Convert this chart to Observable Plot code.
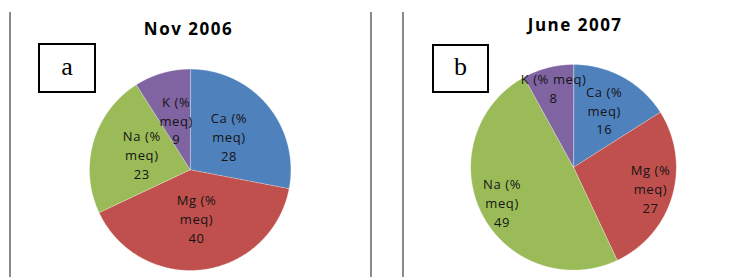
<!DOCTYPE html>
<html><head><meta charset="utf-8">
<script src="https://cdn.jsdelivr.net/npm/d3@7"></script>
<script src="https://cdn.jsdelivr.net/npm/@observablehq/plot@0.6"></script>
<style>
body{margin:0;background:#fff;}
#chart{position:relative;width:738px;height:277px;overflow:hidden;font-family:"Open Sans",sans-serif;}
#chart svg{position:absolute;left:0;top:0;}
#chart svg text{letter-spacing:0.6px;}
.vline{position:absolute;top:12px;bottom:0;width:2px;background:#8a8a8a;}
.title{position:absolute;font-weight:bold;font-size:17px;letter-spacing:1.5px;padding-left:1.5px;text-align:center;width:200px;line-height:17px;color:#000;}
.tag{position:absolute;box-sizing:border-box;border:2px solid #000;font-family:"Liberation Serif",serif;font-size:26px;line-height:26px;text-align:center;color:#000;background:#fff;}
</style></head><body><div id="chart"></div>
<script>
// ---- data ----
const ions = ["Ca", "Mg", "Na", "K"];
const ionUnit = "(% meq)";
const nov2006 = [28, 40, 23, 9];
const june2007 = [16, 27, 49, 8];
const titles = ["Nov 2006", "June 2007"];
const panelTags = ["a", "b"];
const sliceColors = ["#4F81BD", "#C0504D", "#9BBB59", "#8064A2"];

// ---- layout / style ----
const series = [nov2006, june2007];
const panels = [
  {cx: 189.7, cy: 169.3, r: 100.7, labelR: [0.5, 0.5, 0.5, 0.5], wrap: [true, true, true, true],
   titleX: 187, titleBase: 35, tag: {left: 38, top: 43, w: 58, h: 50, pad: 9}},
  {cx: 573, cy: 166.8, r: 102.8, labelR: [0.62, 0.78, 0.78, 0.78], wrap: [true, true, true, false],
   titleX: 573.7, titleBase: 31, tag: {left: 432, top: 44, w: 57, h: 49, pad: 8}}
];
const vlines = [9, 369.5, 402];

const features = [], labels = [];
panels.forEach((p, i) => {
  const arcs = d3.pie().sort(null)(series[i]);
  arcs.forEach((a, j) => {
    const ring = [[p.cx, p.cy]];
    const n = Math.max(2, Math.ceil((a.endAngle - a.startAngle) / (Math.PI / 360)));
    for (let k = 0; k <= n; k++) {
      const t = a.startAngle + (a.endAngle - a.startAngle) * k / n;
      ring.push([p.cx + p.r * Math.sin(t), p.cy - p.r * Math.cos(t)]);
    }
    ring.push([p.cx, p.cy]);
    features.push({type: "Feature", properties: {ion: ions[j]}, geometry: {type: "Polygon", coordinates: [ring]}});
    const mid = (a.startAngle + a.endAngle) / 2, lr = p.r * p.labelR[j];
    const name = p.wrap[j] ? `${ions[j]} (%\nmeq)` : `${ions[j]} ${ionUnit}`;
    labels.push({x: p.cx + lr * Math.sin(mid), y: p.cy - lr * Math.cos(mid), text: `${name}\n${a.data}`});
  });
});

const chart = document.getElementById("chart");
const svg = Plot.plot({
  width: 738, height: 277, margin: 0,
  projection: {type: "identity"},
  color: {domain: ions, range: sliceColors},
  style: {background: "transparent", fontFamily: "'Open Sans', sans-serif"},
  marks: [
    Plot.geo({type: "FeatureCollection", features}, {fill: d => d.properties.ion, stroke: "#fff", strokeWidth: 0.6, strokeOpacity: 0.5}),
    Plot.text(labels, {x: "x", y: "y", text: "text", fontSize: 13, lineHeight: 1.46, dy: -2, fill: "#141414"})
  ]
});
chart.appendChild(svg);

vlines.forEach(x => {
  const d = document.createElement("div");
  d.className = "vline"; d.style.left = x + "px";
  chart.appendChild(d);
});
panels.forEach((p, i) => {
  const t = document.createElement("div");
  t.className = "title"; t.textContent = titles[i];
  t.style.left = (p.titleX - 100) + "px";
  t.style.top = (p.titleBase - 15.1) + "px";
  chart.appendChild(t);
  const g = document.createElement("div");
  g.className = "tag"; g.textContent = panelTags[i];
  Object.assign(g.style, {left: p.tag.left + "px", top: p.tag.top + "px", width: p.tag.w + "px", height: p.tag.h + "px", paddingTop: p.tag.pad + "px"});
  chart.appendChild(g);
});
</script></body></html>
